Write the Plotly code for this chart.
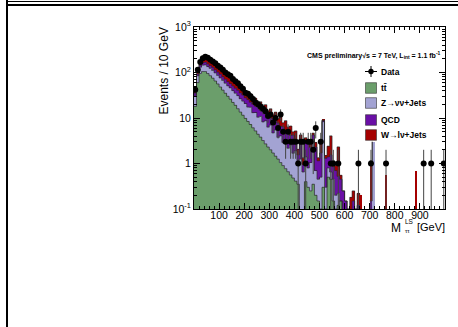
import numpy as np
import plotly.graph_objects as go

# ---------------- data (10 GeV bins, 0-1000 GeV) ----------------
bin_low = list(range(0, 1000, 10))

data_counts = [42, 115, 170, 205, 222, 212, 190, 175, 160, 140,
               128, 115, 100, 92, 85, 72, 64, 58, 50, 44,
               36, 34, 30, 26, 22, 20, 18, 16, 14, 11,
               12, 8, 10, 6, 12, 5, 3, 5, 3, 3,
               3, 1, 3, 3, 1, 3, 3, 2, 6, 0,
               3, 0, 0, 0, 1, 1, 0, 1, 0, 0,
               0, 0, 0, 0, 0, 1, 0, 0, 0, 0,
               1, 0, 0, 0, 0, 0, 1, 0, 0, 0,
               0, 0, 0, 0, 0, 0, 0, 0, 0, 0,
               0, 1, 0, 0, 1, 0, 0, 0, 0, 1]

ttbar = [18, 60, 95, 105, 105, 95, 85, 75, 65, 56,
         48, 41, 35, 30, 26, 22, 19, 16, 13.5, 11.5,
         9.8, 8.4, 7.2, 6.1, 5.2, 4.4, 3.8, 3.2, 2.7, 2.3,
         2.0, 1.7, 1.45, 1.25, 1.05, 0.9, 0.77, 0.66, 0.56, 0.48,
         0.41, 0.35, 0.05, 0.05, 0.4, 0.3, 0.25, 0.35, 0.2, 0.15,
         0.1, 0.3, 0.1, 0.5, 0.45, 0.15, 0.1, 0.12, 0.15, 0.05,
         0, 0, 0, 0, 0, 0, 0, 0, 0, 0,
         0, 0, 0, 0, 0, 0, 0, 0, 0, 0,
         0, 0, 0, 0, 0, 0, 0, 0, 0, 0,
         0, 0, 0, 0, 0, 0, 0, 0, 0, 0]

znunu = [14, 25, 35, 40, 42, 40, 38, 36, 33, 30,
         28, 26, 23, 21, 20, 18, 16, 15, 13, 12,
         11, 9, 10, 7, 8, 6, 7, 5, 6, 4,
         5, 3, 4, 2.5, 3, 2, 2.5, 1.5, 2, 1.2,
         1.5, 0.8, 1.2, 0.6, 1.0, 0.5, 0.8, 3.0, 0.5, 0.3,
         0.4, 8.0, 0.2, 0.3, 0.2, 0.3, 0.1, 0.1, 0, 0,
         0, 0, 0, 0, 0, 0, 0, 0, 0, 0,
         0, 3.0, 0, 0, 0, 0, 0, 0, 0, 0,
         0, 0, 0, 0, 0, 0, 0, 0, 0, 0,
         0, 0, 0, 0, 0, 0, 0, 0, 0, 0]

qcd = [3, 8, 14, 18, 20, 20, 19, 18, 17, 16,
       15, 14, 13, 12, 11, 10.5, 10, 9.5, 9, 8.5,
       7, 8, 5, 7, 5, 7, 4, 6, 4, 5,
       3, 5, 3, 4, 2.5, 3.5, 2, 3, 1.6, 2.5,
       1.3, 0.4, 1.8, 0.3, 1.5, 2.0, 1.2, 0.9, 1.6, 0.7,
       1.2, 0.5, 1.0, 0.6, 0.9, 0.4, 0.5, 0.3, 0.3, 0.2,
       0.15, 0.1, 0.08, 0.15, 0.1, 0.12, 0.1, 0, 0, 0,
       0.15, 0, 0, 0, 0, 0, 0, 0, 0, 0,
       0, 0, 0, 0, 0, 0, 0, 0, 0, 0,
       0, 0, 0, 0, 0, 0, 0, 0, 0, 0]

wlnu = [5, 18, 28, 38, 45, 45, 42, 40, 36, 32,
        28, 26, 23, 21, 19, 17, 15, 13, 12, 11,
        11, 8, 12, 6, 9, 5, 8, 4, 7, 3,
        6, 2, 5, 2, 5, 1.5, 3.5, 1.2, 2.5, 0.8,
        2, 0.5, 1.2, 0.4, 0.8, 0.3, 1.0, 0.4, 0.6, 0.2,
        1.5, 0.3, 0.2, 1.0, 2.5, 0.3, 0.2, 1.8, 0.1, 0,
        0, 0, 0.1, 0.1, 0, 0.1, 0.1, 0, 0, 0,
        1.0, 0, 0, 0, 0, 0, 0.55, 0, 0, 0,
        0, 0, 0, 0, 0, 0, 0, 0, 0.7, 0,
        0, 0, 0, 0, 0, 0, 0, 0, 0, 0]

x_tick_vals = [100, 200, 300, 400, 500, 600, 700, 800, 900]
y_tick_vals = [0.1, 1, 10, 100, 1000]
y_tick_text = ["10<sup>-1</sup>", "1", "10", "10<sup>2</sup>", "10<sup>3</sup>"]

components = [
    ("tt̄", ttbar, "#6b9e6b"),
    ("Z→νν+Jets", znunu, "#a3a3d3"),
    ("QCD", qcd, "#6a0fa6"),
    ("W→lν+Jets", wlnu, "#a50000"),
]

# ---------------- layout geometry (pixels) ----------------
W, H = 458, 327
PL, PR, PT, PB = 194, 445, 27, 209


def px(x):
    return (x - PL) / (PR - PL)


def py(y):
    return (PB - y) / (PB - PT)


centers = [b + 5 for b in bin_low]
edges = bin_low + [1000]

fig = go.Figure()

cum = np.zeros(len(bin_low))
cums = []
for name, vals, col in components:
    fig.add_trace(go.Bar(x=centers, y=vals, width=10, marker=dict(color=col, line=dict(width=0)),
                         showlegend=False, name=name))
    cum = cum + np.array(vals, dtype=float)
    cums.append(cum.copy())

# outlines of the stacked histograms
for c in cums:
    yy = [v if v > 0 else None for v in c]
    yy = yy + [yy[-1]]
    fig.add_trace(go.Scatter(x=edges, y=yy, mode="lines", line=dict(color="#2a2a2a", width=0.7, shape="hv"),
                             showlegend=False, hoverinfo="skip", connectgaps=False))

dx = [c for c, n in zip(centers, data_counts) if n > 0]
dy = [n for n in data_counts if n > 0]
err = [float(np.sqrt(n)) for n in dy]
err_lo = [min(e, n * 0.999) for e, n in zip(err, dy)]
fig.add_trace(go.Scatter(x=dx, y=dy, mode="markers",
                         marker=dict(color="black", size=6),
                         error_y=dict(type="data", array=err, arrayminus=err_lo, color="#444", thickness=1, width=0),
                         showlegend=False, name="Data"))

axis_font = dict(family="Liberation Sans, Arial, sans-serif", size=10.5, color="black")
fig.update_layout(
    width=W, height=H,
    margin=dict(l=PL, r=W - PR, t=PT, b=H - PB),
    paper_bgcolor="white", plot_bgcolor="white",
    barmode="stack", bargap=0,
    font=axis_font,
    xaxis=dict(range=[0, 1000], tickvals=x_tick_vals, ticks="inside", ticklen=6, tickcolor="black",
               showline=True, linecolor="black", linewidth=1, mirror="allticks", showgrid=False,
               zeroline=False, tickfont=axis_font, ticklabelstandoff=-4,
               minor=dict(dtick=20, ticks="inside", ticklen=3, tickcolor="black", showgrid=False)),
    yaxis=dict(type="log", range=[-1, 3], tickvals=y_tick_vals, ticktext=y_tick_text, ticks="inside",
               ticklen=6, tickcolor="black", showline=True, linecolor="black", linewidth=1,
               mirror="allticks", showgrid=False, zeroline=False, tickfont=axis_font,
               minor=dict(dtick="D1", ticks="inside", ticklen=3, tickcolor="black", showgrid=False)),
)

shapes = []
annotations = []


def strip(x0, y0, w, h):
    # solid black strip of the page frame, drawn as an empty boxed annotation
    return dict(text=" ", xref="paper", yref="paper", x=px(x0), y=py(y0), xanchor="left", yanchor="top",
                width=w, height=h, bgcolor="black", borderpad=0, borderwidth=0, showarrow=False,
                font=dict(size=1, color="black"))


annotations.append(strip(6, 0.8, 452, 1))
annotations.append(strip(6, 3.8, 452, 2))
annotations.append(strip(5.8, 0, 2, 327))

title_font = dict(family="Liberation Sans", size=12, color="black")
# axis titles
annotations.append(dict(text="Events / 10 GeV", xref="paper", yref="paper", x=px(163), y=py(71.5),
                        showarrow=False, textangle=-90, font=title_font,
                        xanchor="center", yanchor="middle"))
annotations.append(dict(text="[GeV]", xref="paper", yref="paper", x=px(447), y=py(227), showarrow=False,
                        xanchor="right", yanchor="middle",
                        font=dict(family="Liberation Sans", size=11, color="black")))
annotations.append(dict(text="M", xref="paper", yref="paper", x=px(403), y=py(227.5), showarrow=False,
                        xanchor="right", yanchor="middle", font=title_font))
annotations.append(dict(text="LS", xref="paper", yref="paper", x=px(402.5), y=py(221.5), showarrow=False,
                        xanchor="left", yanchor="middle", font=dict(family="Liberation Sans", size=6.5, color="black")))
annotations.append(dict(text="ττ", xref="paper", yref="paper", x=px(403), y=py(231), showarrow=False,
                        xanchor="left", yanchor="middle", font=dict(family="Liberation Sans", size=6, color="black")))
# CMS label
annotations.append(dict(text="<b>CMS preliminary√s = 7 TeV, L<sub>int</sub> = 1.1 fb<sup>-1</sup></b>",
                        xref="paper", yref="paper", x=px(443), y=py(55), showarrow=False, xanchor="right",
                        yanchor="middle", font=dict(family="Liberation Sans", size=7, color="black")))

# legend (drawn by hand)
leg_font = dict(family="Liberation Sans", size=8.5, color="black")
annotations.append(dict(text="<b>Data</b>", xref="paper", yref="paper", x=px(379), y=py(71.5), showarrow=False,
                        xanchor="left", yanchor="middle", font=leg_font))
shapes.append(dict(type="line", xref="paper", yref="paper", x0=px(365), x1=px(377), y0=py(71.5), y1=py(71.5),
                   line=dict(color="black", width=1)))
shapes.append(dict(type="line", xref="paper", yref="paper", x0=px(371), x1=px(371), y0=py(66), y1=py(77),
                   line=dict(color="black", width=1)))
shapes.append(dict(type="circle", xref="paper", yref="paper", x0=px(368.3), x1=px(373.7), y0=py(68.8), y1=py(74.2),
                   fillcolor="black", line=dict(color="black", width=0)))
leg_rows = [88, 103, 120, 135]
for (name, vals, col), yc in zip(components, leg_rows):
    shapes.append(dict(type="rect", xref="paper", yref="paper", x0=px(365.5), x1=px(376.5), y0=py(yc - 5.3),
                       y1=py(yc + 5.3), fillcolor=col, line=dict(color="#333", width=0.6)))
    annotations.append(dict(text="<b>" + name + "</b>", xref="paper", yref="paper", x=px(379), y=py(yc),
                            showarrow=False, xanchor="left", yanchor="middle", font=leg_font))

fig.update_layout(shapes=shapes, annotations=annotations)
fig.write_html("out.html")
